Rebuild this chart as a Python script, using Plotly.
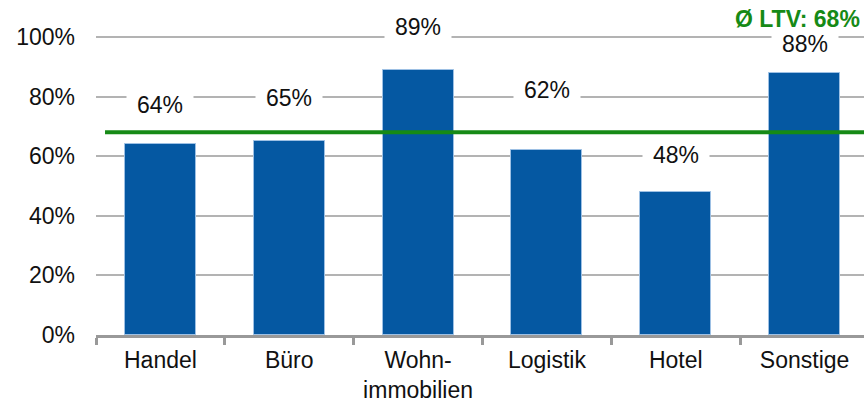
import plotly.graph_objects as go

# Loan-to-value by property type
categories = ["Handel", "Büro", "Wohn-<br>immobilien", "Logistik", "Hotel", "Sonstige"]
ltv_values = [64, 65, 89, 62, 48, 88]
average_ltv = 68
y_ticks = [0, 20, 40, 60, 80, 100]

# vertical pixel offsets of the value labels above their bars
label_shift = [39, 43, 43, 60, 37, 29]

BLUE = "#0558a2"
GREEN = "#168a16"
FONT = "Arial, Liberation Sans, sans-serif"

fig = go.Figure()
fig.add_trace(go.Bar(
    x=categories,
    y=ltv_values,
    width=0.55,
    marker=dict(color=BLUE, line=dict(width=1, color="#9dc0e4")),
    hoverinfo="skip",
))

# value labels with white boxes that interrupt the gridlines
for cat, v, s in zip(categories, ltv_values, label_shift):
    fig.add_annotation(
        x=cat, y=v, yshift=s, text=f"{v}%", showarrow=False,
        font=dict(family=FONT, size=23, color="#111111"),
        bgcolor="white", width=64, height=28,
        xanchor="center", yanchor="middle",
    )

# average LTV line
x_end = len(categories) - 0.5 - 5 / 129
fig.add_shape(
    type="line", xref="x", yref="y",
    x0=-0.43, x1=x_end, y0=average_ltv, y1=average_ltv,
    line=dict(color=GREEN, width=4), layer="above",
)
fig.add_annotation(
    xref="paper", yref="paper", x=0.997, y=1.0, yshift=-4,
    text=f"<b>Ø LTV: {average_ltv}%</b>", showarrow=False,
    font=dict(family=FONT, size=23, color=GREEN),
    xanchor="right", yanchor="top",
)

fig.update_layout(
    width=864, height=401,
    margin=dict(l=96, r=0, t=0, b=66, autoexpand=False),
    paper_bgcolor="white", plot_bgcolor="white",
    showlegend=False,
    bargap=0,
    font=dict(family=FONT, size=23, color="#111111"),
)
fig.update_xaxes(
    type="category",
    range=[-0.5, x_end],
    automargin=False,
    showgrid=False,
    showline=True, linecolor="#999999", linewidth=3,
    ticks="outside", tickson="boundaries",
    ticklen=7, tickwidth=3, tickcolor="#999999",
    ticklabelstandoff=2,
    zeroline=False,
)
fig.update_yaxes(
    range=[0, 335 / 2.98],
    automargin=False,
    tickmode="array",
    tickvals=y_ticks,
    ticktext=[f"{t}%" for t in y_ticks],
    showgrid=True, gridcolor="#b3b3b3", gridwidth=1.5,
    showline=False, zeroline=False,
    ticks="", ticklabelstandoff=20,
)

fig.write_html("out.html")
